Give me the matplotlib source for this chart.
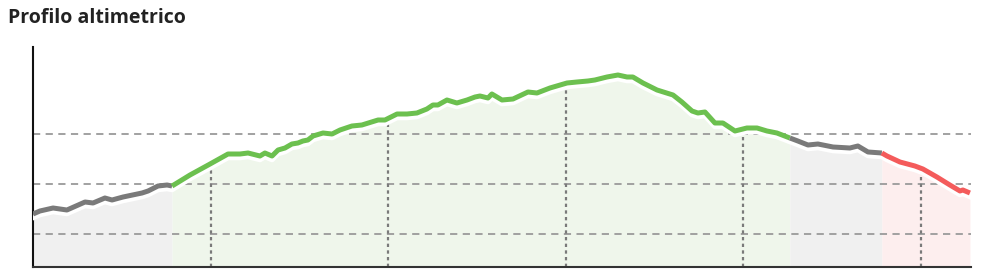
import numpy as np
import matplotlib.pyplot as plt

km = np.array([0.000, 0.039, 0.113, 0.191, 0.293, 0.338, 0.405, 0.445, 0.507, 0.614,
               0.648, 0.704, 0.755, 0.783, 0.884, 0.997, 1.098, 1.166, 1.211, 1.278,
               1.306, 1.346, 1.380, 1.419, 1.458, 1.492, 1.520, 1.548, 1.577, 1.633,
               1.684, 1.729, 1.796, 1.852, 1.943, 1.982, 2.050, 2.106, 2.162, 2.218,
               2.252, 2.280, 2.331, 2.387, 2.444, 2.489, 2.517, 2.562, 2.584, 2.641,
               2.703, 2.787, 2.838, 2.911, 3.007, 3.063, 3.125, 3.164, 3.232, 3.294,
               3.345, 3.378, 3.435, 3.514, 3.604, 3.654, 3.711, 3.744, 3.784, 3.840,
               3.885, 3.953, 4.020, 4.077, 4.133, 4.189, 4.262, 4.307, 4.364, 4.420,
               4.505, 4.600, 4.645, 4.702, 4.780, 4.809, 4.882, 4.966, 5.011, 5.090,
               5.163, 5.220, 5.236, 5.276])
elev = np.array([140, 146, 152, 148, 164, 162, 172, 168, 174, 182,
                 186, 196, 198, 196, 218, 240, 260, 260, 262, 256,
                 262, 256, 268, 272, 280, 282, 286, 288, 296, 302,
                 300, 308, 316, 318, 328, 328, 340, 340, 342, 350,
                 358, 358, 368, 362, 368, 374, 376, 372, 380, 368,
                 370, 384, 382, 392, 402, 404, 406, 408, 414, 418,
                 414, 414, 402, 388, 378, 364, 346, 342, 344, 322,
                 322, 306, 312, 312, 306, 302, 292, 286, 278, 280,
                 274, 272, 276, 264, 262, 256, 244, 236, 230, 214,
                 198, 186, 188, 182])

# tratti colorati (inizio, fine)
seg_start = [0.000, 0.783, 4.262, 4.780]
seg_end = [0.783, 4.262, 4.780, 5.276]
seg_line = ['#7a7a7a', '#6cc04f', '#7a7a7a', '#f45b5b']
seg_fill = ['#f0f0f0', '#eff6eb', '#f0f0f0', '#fdeeee']

km_marks = [1, 2, 3, 4, 5]
grid_levels = [100, 200, 300]
ymin, ymax = 34, 474

fig = plt.figure(figsize=(9.83, 2.78), dpi=100)
fig.text(0.008, 0.935, 'Profilo altimetrico', fontsize=14, fontweight='bold',
         color='#222222', family='Open Sans', va='center')
ax = fig.add_axes([33 / 983, 11 / 278, 938 / 983, 220 / 278])

for a, b, lc, fc in zip(seg_start, seg_end, seg_line, seg_fill):
    m = (km >= a) & (km <= b)
    ax.fill_between(km[m], ymin, elev[m], color=fc, lw=0, zorder=1)

for g in grid_levels:
    ax.axhline(g, color='#9a9a9a', lw=1.3, ls=(0, (4, 3)), zorder=2)

for k in km_marks:
    ax.vlines(k, ymin, np.interp(k, km, elev), color='#7a7a7a', lw=1.6,
              linestyles=(0, (1.5, 1.5)), zorder=2)

# ombra bianca sotto la linea
ax.plot(km, elev - 7, color='white', lw=4, solid_joinstyle='round', zorder=3)

for a, b, lc, fc in zip(seg_start, seg_end, seg_line, seg_fill):
    m = (km >= a) & (km <= b)
    ax.plot(km[m], elev[m], color=lc, lw=3.6, solid_joinstyle='round',
            solid_capstyle='butt', zorder=4)

ax.set_xlim(0, 5.282)
ax.set_ylim(ymin, ymax)
ax.set_xticks([])
ax.set_yticks([])
ax.spines['top'].set_visible(False)
ax.spines['right'].set_visible(False)
ax.spines['left'].set_color('#111111')
ax.spines['left'].set_linewidth(1.5)
ax.spines['bottom'].set_color('#333333')
ax.spines['bottom'].set_linewidth(1.5)

fig.savefig('out.png', dpi=100)
